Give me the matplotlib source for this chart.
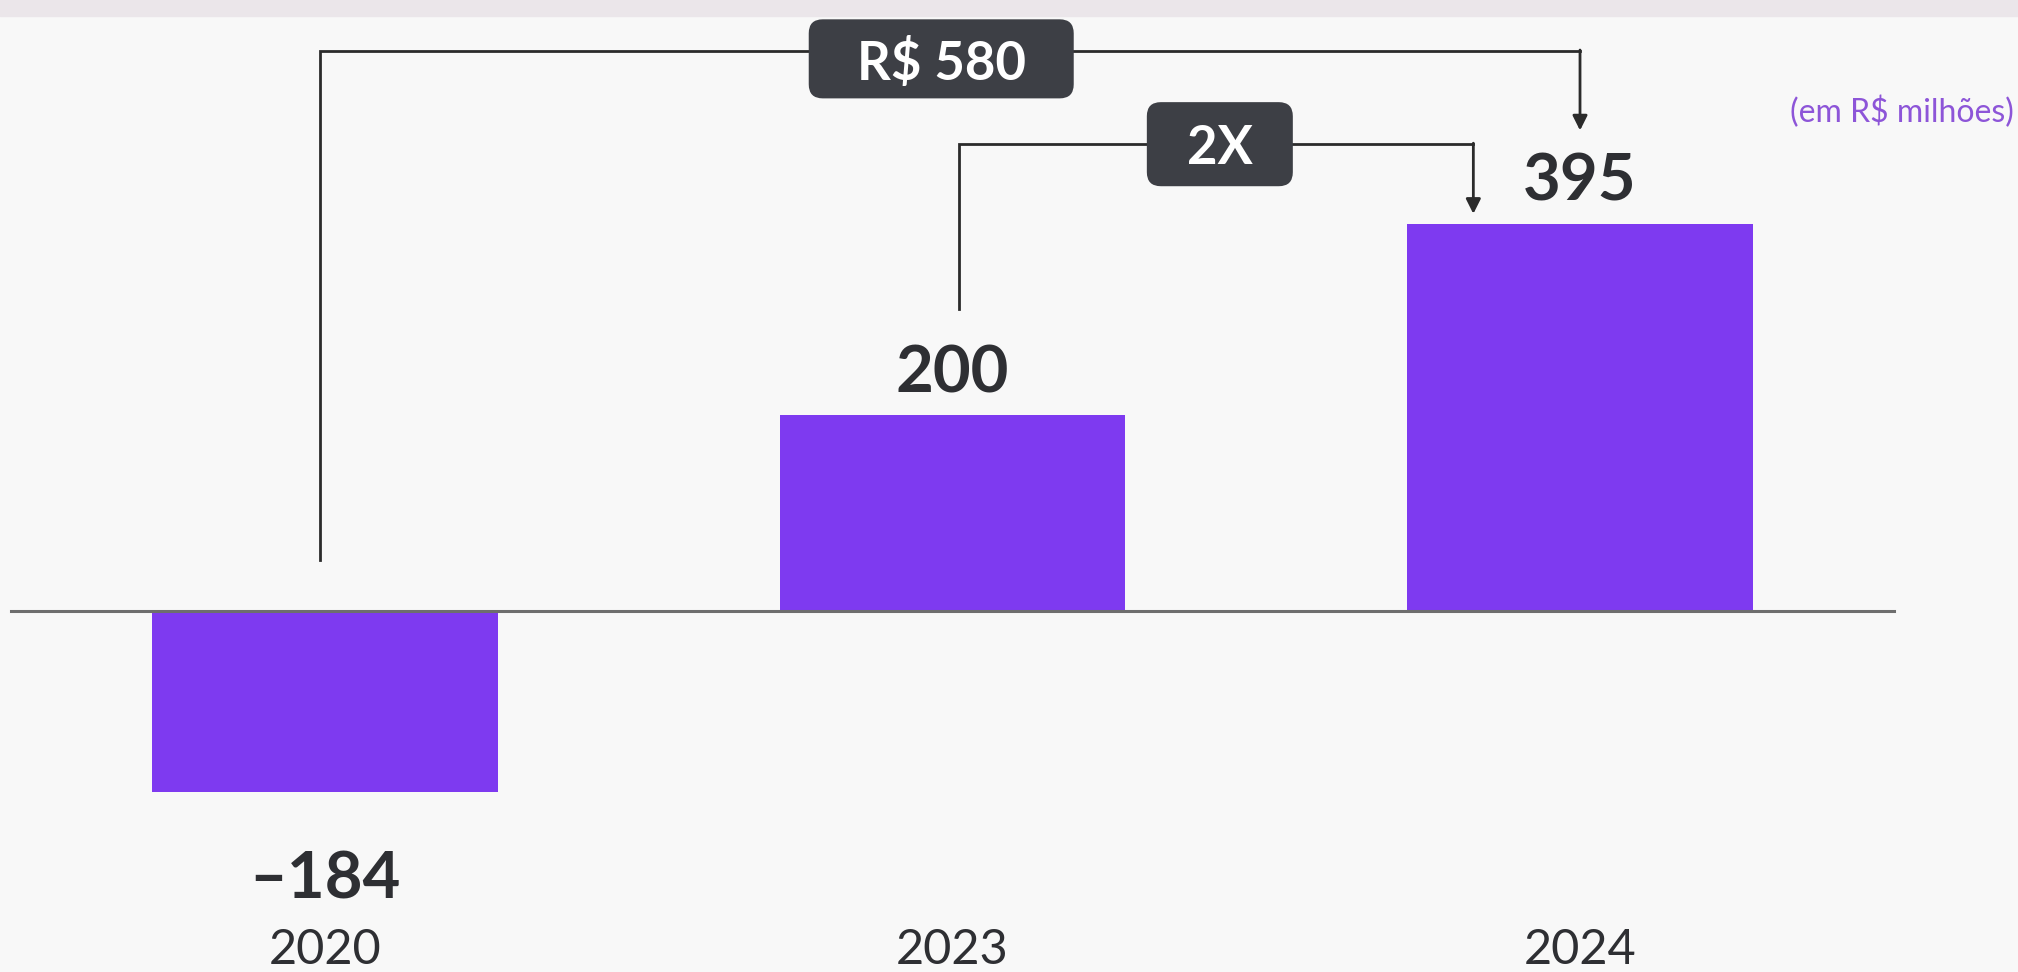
import matplotlib.pyplot as plt
from matplotlib.patches import Rectangle, FancyBboxPatch

# Resultado anual (em R$ milhões)
anos = ['2020', '2023', '2024']
valores = [-184, 200, 395]
rotulos = ['-184', '200', '395']

# chaves de comparação: (de, para, texto)
comparacoes = [(0, 2, 'R$ 580'), (1, 2, '2X')]

COR_BARRA = '#7e3af0'
COR_CAIXA = '#3d3f45'
COR_TEXTO = '#2e2f33'
FUNDO = '#f8f8f8'

# escala: px por unidade em x e em y
PX_X = 627.5
PX_Y = 0.98

plt.rcParams['font.family'] = ['Lato', 'DejaVu Sans']

fig = plt.figure(figsize=(20.18, 9.72), dpi=100, facecolor=FUNDO)
ax = fig.add_axes([0, 0, 1, 1])
ax.set_facecolor(FUNDO)
ax.set_xlim(-0.518, 2.698)
ax.set_ylim(-368, 623)
ax.axis('off')

# faixa clara no topo
fig.patches.append(Rectangle((0, 0.984), 1, 0.016, transform=fig.transFigure,
                             color='#ebe6ea', zorder=0))

x = list(range(len(anos)))
ax.bar(x, valores, width=0.55, color=COR_BARRA, zorder=2)
ax.plot([-0.5, 2.5], [0, 0], color='#6e6e6e', lw=2.2, zorder=3)

for i, v in enumerate(valores):
    if v >= 0:
        ax.text(i, v + 12, rotulos[i], ha='center', va='bottom', fontsize=47,
                fontweight='bold', color=COR_TEXTO)
    else:
        ax.text(i, v - 60, rotulos[i].replace('-', '–'), ha='center', va='top',
                fontsize=47, fontweight='bold', color=COR_TEXTO)
    ax.text(i, -323, anos[i], ha='center', va='top', fontsize=35, color=COR_TEXTO)


def caixa(xc, yc, larg_px, alt_px, texto):
    w = larg_px / PX_X
    h = alt_px / PX_Y
    ax.add_patch(FancyBboxPatch((xc - w / 2, yc - h / 2), w, h,
                                boxstyle='round,pad=0,rounding_size=%f' % (14 / PX_X),
                                mutation_aspect=PX_X / PX_Y,
                                fc=COR_CAIXA, ec='none', zorder=4))
    ax.text(xc, yc, texto, ha='center', va='center_baseline', fontsize=38,
            fontweight='bold', color='white', zorder=5)


def chave(x0, y0, x1, y_top, y_fim):
    ax.plot([x0, x0, x1], [y0, y_top, y_top], color='#2b2b2b', lw=2, zorder=3,
            solid_joinstyle='miter')
    ax.annotate('', xy=(x1, y_fim), xytext=(x1, y_top + 1),
                arrowprops=dict(arrowstyle='-|>', color='#2b2b2b', lw=2,
                                mutation_scale=22, shrinkA=0, shrinkB=0),
                zorder=3)


# 2020 -> 2024
chave(comparacoes[0][0] - 0.008, 52, comparacoes[0][1], 571, 490)
caixa(0.982, 563, 265, 79, comparacoes[0][2])

# 2023 -> 2024
chave(comparacoes[1][0] + 0.01, 308, comparacoes[1][1] - 0.17, 476, 405)
caixa(1.426, 476, 146, 84, comparacoes[1][2])

ax.text(0.998, 0.885, '(em R$ milhões)', transform=fig.transFigure,
        ha='right', va='center', fontsize=23, color='#8d55d8')

fig.savefig('out.png', dpi=100, facecolor=FUNDO)
